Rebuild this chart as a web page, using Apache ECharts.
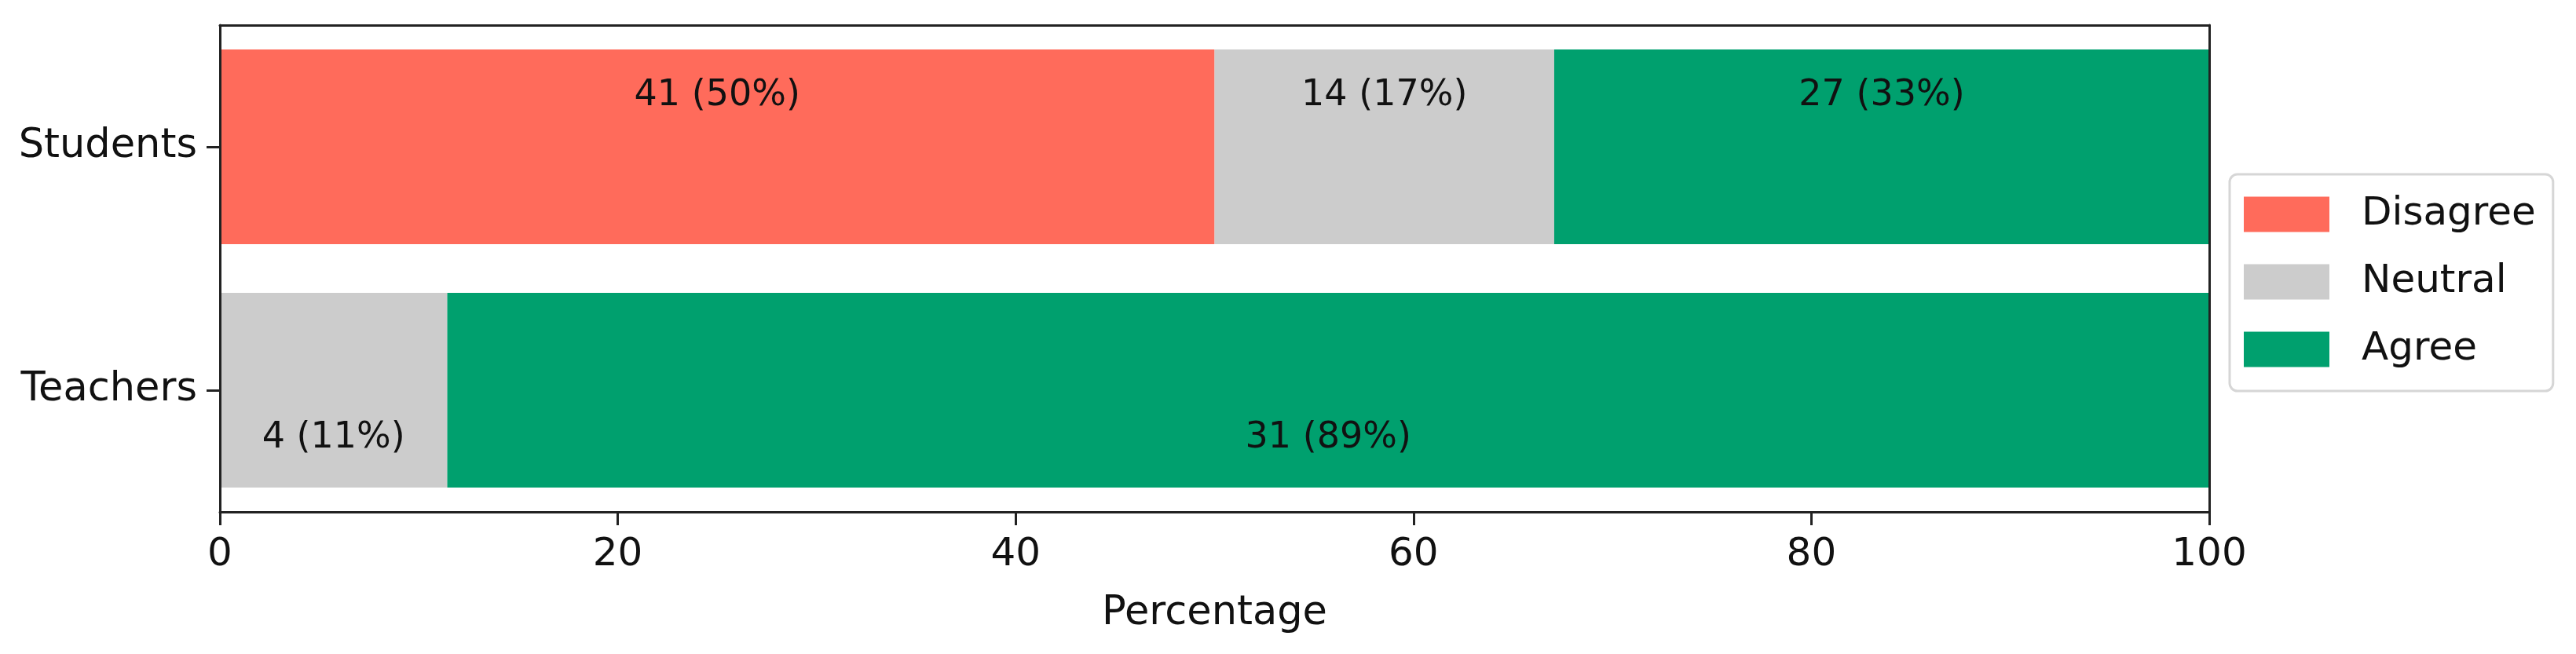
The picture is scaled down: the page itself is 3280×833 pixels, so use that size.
<!DOCTYPE html>
<html>
<head>
<meta charset="utf-8">
<script src="https://cdn.jsdelivr.net/npm/echarts@6/dist/echarts.min.js"></script>
<style>
    html, body { margin: 0; padding: 0; background: #fff; }
    #chart { width: 3280px; height: 833px; }
</style>
</head>
<body>
<div id="chart"></div>
<script>
const groups = ['Students', 'Teachers'];
const answers = ['Disagree', 'Neutral', 'Agree'];
const disagreeCounts = [41, 0];
const neutralCounts = [14, 4];
const agreeCounts = [27, 31];
const xTicks = [0, 20, 40, 60, 80, 100];

const colors = ['#ff6b5b', '#cccccc', '#00a06e'];
const labelShift = [-65, 61];   // students labels sit high, teachers low
const font = 'DejaVu Sans';

function totals() {
    var t = [];
    for (var i = 0; i < groups.length; i++)
        t.push(disagreeCounts[i] + neutralCounts[i] + agreeCounts[i]);
    return t;
}

function buildSeries() {
    var tot = totals();
    var series = [];
    [disagreeCounts, neutralCounts, agreeCounts].forEach((counts, k) => {
        var data = counts.map((c, i) => ({
            value: c * 100 / tot[i],
            count: c,
            label: { show: c > 0, offset: [0, labelShift[i]] }
        }));
        series.push({
            name: answers[k],
            type: 'bar',
            stack: 'all',
            barCategoryGap: '20%',
            itemStyle: { color: colors[k] },
            label: {
                position: 'inside',
                color: '#111',
                fontFamily: font,
                fontSize: 46,
                formatter: function (p) {
                    return p.data.count + ' (' + Math.round(p.data.value) + '%)';
                }
            },
            data: data
        });
    });
    return series;
}

var chartDom = document.getElementById('chart');
var myChart = echarts.init(chartDom);

const spine = { show: true, onZero: false, lineStyle: { color: '#222', width: 3 } };

var option = {
    animation: false,
    textStyle: { fontFamily: font },
    grid: { left: 280, right: 467, top: 32, bottom: 181 },
    legend: {
        orient: 'vertical',
        left: 2839,
        top: 222,
        data: answers,
        icon: 'rect',
        itemWidth: 109,
        itemHeight: 45,
        itemGap: 36,
        padding: [26, 22, 28, 18],
        borderColor: '#d6d6d6',
        borderWidth: 3,
        borderRadius: 10,
        backgroundColor: '#fff',
        textStyle: { fontSize: 50, lineHeight: 50, color: '#111', fontFamily: font, padding: [0, 0, 0, 36] }
    },
    xAxis: [{
        type: 'value',
        min: xTicks[0],
        max: xTicks[xTicks.length - 1],
        interval: 20,
        z: 10,
        axisLine: spine,
        axisTick: { show: true, length: 17, lineStyle: { color: '#222', width: 3 } },
        axisLabel: { fontSize: 50, color: '#111', margin: 30, fontFamily: font },
        splitLine: { show: false },
        name: 'Percentage',
        nameLocation: 'middle',
        nameGap: 104,
        nameTextStyle: { fontSize: 51, color: '#111', fontFamily: font }
    }, {
        type: 'value',
        position: 'top',
        min: 0,
        max: 100,
        z: 10,
        axisLine: spine,
        axisTick: { show: false },
        axisLabel: { show: false },
        splitLine: { show: false }
    }],
    yAxis: [{
        type: 'category',
        data: groups,
        inverse: true,
        z: 10,
        axisLine: spine,
        axisTick: { show: true, alignWithLabel: true, length: 17, lineStyle: { color: '#222', width: 3 } },
        axisLabel: { fontSize: 51, color: '#111', margin: 29, fontFamily: font }
    }, {
        type: 'category',
        data: groups,
        inverse: true,
        position: 'right',
        z: 10,
        axisLine: spine,
        axisTick: { show: false },
        axisLabel: { show: false }
    }],
    series: buildSeries()
};

option && myChart.setOption(option);
</script>
</body>
</html>
